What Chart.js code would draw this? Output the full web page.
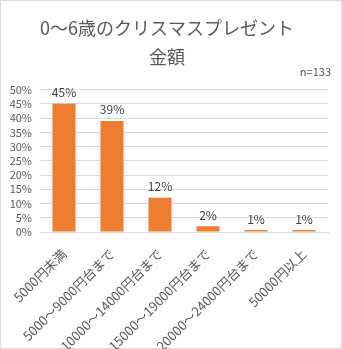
<!DOCTYPE html>
<html>
<head>
<meta charset="utf-8">
<script src="https://cdn.jsdelivr.net/npm/chart.js@4"></script>
<style>
  html, body { margin: 0; padding: 0; background: #fff; }
  #wrap { width: 342px; height: 349px; position: relative; }
</style>
</head>
<body>
<div id="wrap"><canvas id="chart"></canvas></div>
<script>
  // 0〜6歳のクリスマスプレゼント 金額
  var CATEGORIES = ['5000円未満', '5000〜9000円台まで', '10000〜14000円台まで', '15000〜19000円台まで', '20000〜24000円台まで', '50000円以上'];
  var VALUES = [45, 39, 12, 2, 0.7, 0.7];
  var VALUE_LABELS = ['45%', '39%', '12%', '2%', '1%', '1%'];
  var TITLE_LINES = ['0〜6歳のクリスマスプレゼント', '金額'];
  var NOTE = 'n=133';

  var FONT = '"Noto Sans CJK JP", "Noto Sans", sans-serif';
  var TEXT = '#595959';

  var extras = {
    id: 'extras',
    beforeDraw: function (chart) {
      var ctx = chart.ctx;
      ctx.save();
      ctx.fillStyle = '#fff';
      ctx.fillRect(0, 0, chart.width, chart.height);
      ctx.strokeStyle = '#d9d9d9';
      ctx.lineWidth = 1;
      ctx.strokeRect(0.5, 0.5, chart.width - 1, chart.height - 1);
      ctx.restore();
    },
    afterDatasetsDraw: function (chart) {
      var ctx = chart.ctx;
      var meta = chart.getDatasetMeta(0);
      ctx.save();
      ctx.font = '12px ' + FONT;
      ctx.fillStyle = '#404040';
      ctx.textAlign = 'center';
      ctx.textBaseline = 'bottom';
      meta.data.forEach(function (bar, i) {
        ctx.fillText(VALUE_LABELS[i], bar.x, bar.y - 5);
      });
      ctx.textAlign = 'right';
      ctx.textBaseline = 'middle';
      ctx.fillStyle = TEXT;
      ctx.font = '11px ' + FONT;
      ctx.fillText(NOTE, 331, 72);
      ctx.restore();
    }
  };

  new Chart(document.getElementById('chart').getContext('2d'), {
    type: 'bar',
    data: {
      labels: CATEGORIES,
      datasets: [{
        data: VALUES,
        backgroundColor: '#ed7d31',
        categoryPercentage: 1,
        barPercentage: 0.48
      }]
    },
    options: {
      responsive: true,
      maintainAspectRatio: false,
      animation: false,
      layout: { padding: { left: 6, right: 14, top: 0, bottom: 0 } },
      plugins: {
        legend: { display: false },
        tooltip: { enabled: false },
        title: {
          display: true,
          text: TITLE_LINES,
          color: TEXT,
          font: { family: FONT, size: 18, weight: 'normal', lineHeight: 1.6 },
          padding: { top: 14, bottom: 18 }
        }
      },
      scales: {
        y: {
          min: 0,
          max: 50,
          ticks: {
            stepSize: 5,
            autoSkip: false,
            color: TEXT,
            font: { family: FONT, size: 11 },
            padding: 8,
            callback: function (v) { return v + '%'; }
          },
          grid: { color: '#d9d9d9', drawTicks: false },
          border: { display: false },
          afterFit: function (scale) { scale.width = 34; }
        },
        x: {
          ticks: {
            color: TEXT,
            font: { family: FONT, size: 13 },
            maxRotation: 45,
            minRotation: 45,
            autoSkip: false,
            padding: 6
          },
          grid: { display: false },
          border: { color: '#d9d9d9' },
          afterFit: function (scale) { scale.height = 117; }
        }
      }
    },
    plugins: [extras]
  });
</script>
</body>
</html>
